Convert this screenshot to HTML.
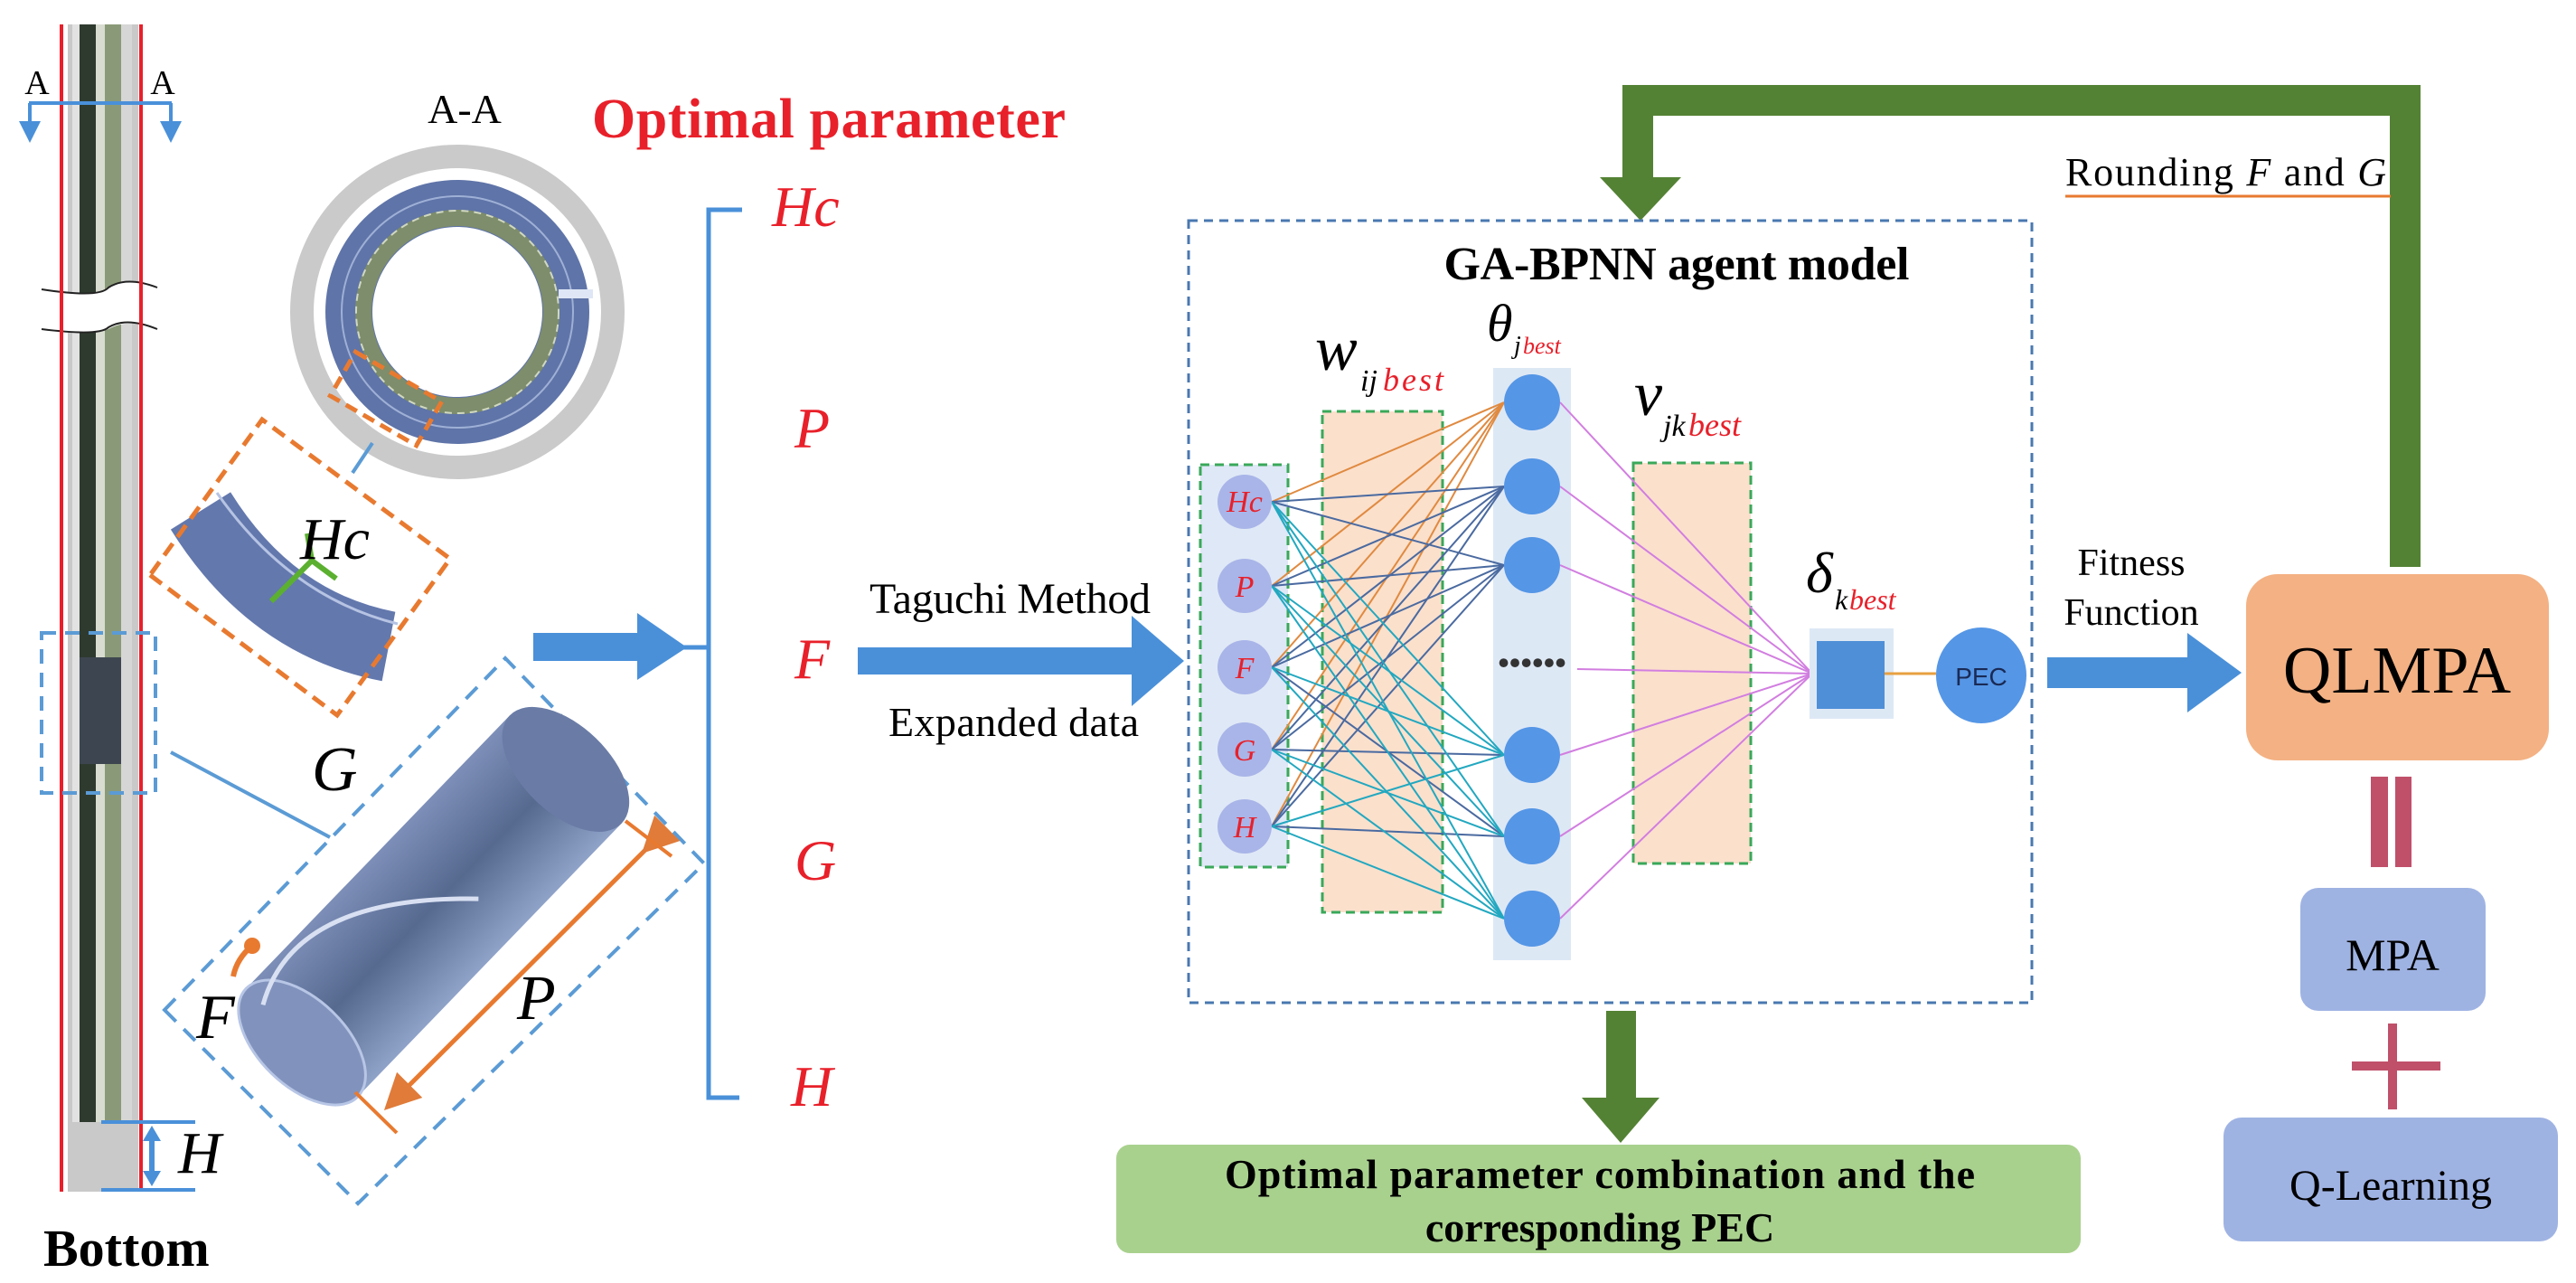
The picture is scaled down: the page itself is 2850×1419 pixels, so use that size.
<!DOCTYPE html>
<html><head><meta charset="utf-8"><style>
html,body{margin:0;padding:0;background:#fff;}
svg{display:block;}
text{font-family:"Liberation Serif",serif;}
</style></head><body>
<svg width="2850" height="1419" viewBox="0 0 2850 1419" xmlns="http://www.w3.org/2000/svg">
<defs>
<linearGradient id="cyl" x1="0" y1="0" x2="0" y2="1">
<stop offset="0" stop-color="#7d8fb8"/><stop offset="0.5" stop-color="#56698f"/><stop offset="1" stop-color="#8fa2c8"/>
</linearGradient>
<marker id="ah" markerWidth="8" markerHeight="8" refX="6" refY="4" orient="auto"><path d="M0,0 L8,4 L0,8 z" fill="#e07b39"/></marker>
<marker id="bh" markerWidth="6" markerHeight="6" refX="4" refY="3" orient="auto"><path d="M0,0 L6,3 L0,6 z" fill="#4a90d9"/></marker>
</defs>

<!-- pipe -->
<rect x="75" y="27" width="78" height="1291" fill="#c9c9c9"/>
<rect x="80" y="27" width="8" height="1214" fill="#e2e2e2"/>
<rect x="88" y="27" width="18" height="1214" fill="#2f3a2f"/>
<rect x="106" y="27" width="10" height="1214" fill="#d9dcd0"/>
<rect x="116" y="27" width="18" height="1214" fill="#8a9a78"/>
<rect x="134" y="27" width="12" height="1214" fill="#d6d6d6"/>
<rect x="88" y="727" width="46" height="118" fill="#3d4650"/>
<path d="M40 320 Q110 330 120 318 Q140 305 180 318 L180 362 Q140 352 120 364 Q100 372 40 362 z" fill="#fff"/>
<path d="M46 320 Q110 330 120 318 Q140 305 174 318" fill="none" stroke="#222" stroke-width="2"/>
<path d="M46 364 Q110 372 120 362 Q140 350 174 364" fill="none" stroke="#222" stroke-width="2"/>
<line x1="68" y1="27" x2="68" y2="1318" stroke="#e8202a" stroke-width="4"/>
<line x1="156" y1="27" x2="156" y2="1318" stroke="#e8202a" stroke-width="4"/>
<!-- A arrows -->
<line x1="32" y1="114" x2="190" y2="114" stroke="#4a90d9" stroke-width="4"/>
<line x1="33" y1="114" x2="33" y2="150" stroke="#4a90d9" stroke-width="4" marker-end="url(#bh)"/>
<line x1="189" y1="114" x2="189" y2="150" stroke="#4a90d9" stroke-width="4" marker-end="url(#bh)"/>
<text x="41" y="104" font-size="38" text-anchor="middle">A</text>
<text x="180" y="104" font-size="38" text-anchor="middle">A</text>
<!-- H dims -->
<line x1="112" y1="1241" x2="216" y2="1241" stroke="#4a90d9" stroke-width="4"/>
<line x1="112" y1="1316" x2="216" y2="1316" stroke="#4a90d9" stroke-width="4"/>
<line x1="168" y1="1250" x2="168" y2="1307" stroke="#4a90d9" stroke-width="6"/>
<path d="M158 1262 L168 1245 L178 1262 z M158 1295 L168 1312 L178 1295 z" fill="#4a90d9"/>
<text x="197" y="1297" font-size="66" font-style="italic">H</text>
<text x="48" y="1400" font-size="58" font-weight="bold">Bottom</text>
<!-- small dashed blue rect -->
<rect x="46" y="700" width="126" height="177" fill="none" stroke="#5b9bd5" stroke-width="4" stroke-dasharray="16,10"/>
<line x1="189" y1="832" x2="365" y2="926" stroke="#5b9bd5" stroke-width="4"/>

<!-- A-A ring -->
<text x="514" y="136" font-size="46" text-anchor="middle">A-A</text>
<circle cx="506" cy="345" r="172" fill="none" stroke="#cacaca" stroke-width="26"/>
<circle cx="506" cy="345" r="146" fill="#5f74a8"/>
<circle cx="506" cy="345" r="128" fill="none" stroke="#9fb0d6" stroke-width="2"/>
<circle cx="506" cy="345" r="104" fill="none" stroke="#7e8d6b" stroke-width="18"/>
<circle cx="506" cy="345" r="112" fill="none" stroke="#d0d8c0" stroke-width="2" stroke-dasharray="8,6"/>
<circle cx="506" cy="345" r="94" fill="#fff"/>
<rect x="618" y="320" width="38" height="10" fill="#dfe6f5"/>
<g transform="translate(427,441) rotate(30)"><rect x="-55" y="-28" width="110" height="56" fill="none" stroke="#e87a30" stroke-width="5" stroke-dasharray="14,8"/></g>
<line x1="412" y1="490" x2="390" y2="523" stroke="#5b9bd5" stroke-width="4"/>
<!-- Hc piece -->
<path d="M222 565 Q300 690 430 715" fill="none" stroke="#6378ad" stroke-width="78"/>
<path d="M240 545 Q320 660 440 690" fill="none" stroke="#b6c3e3" stroke-width="3"/>
<path d="M300 665 L345 620 L372 640 M345 620 L340 590" fill="none" stroke="#5bb030" stroke-width="6"/>
<polygon points="166,636 373,791 498,618 290,464" fill="none" stroke="#e87a30" stroke-width="5" stroke-dasharray="16,9"/>
<text x="332" y="618" font-size="66" font-style="italic">Hc</text>

<!-- cylinder -->
<polygon points="182,1117 396,1331 779,955 559,728" fill="none" stroke="#5b9bd5" stroke-width="4" stroke-dasharray="18,12"/>
<g transform="translate(480,1002) rotate(-46)">
<rect x="-210" y="-86" width="420" height="172" fill="url(#cyl)"/>
<ellipse cx="210" cy="0" rx="48" ry="86" fill="#6a7ca6"/>
<ellipse cx="-210" cy="0" rx="48" ry="86" fill="#8193bd" stroke="#b8c6e6" stroke-width="3"/>
<path d="M-210 -60 Q-100 -120 40 30" fill="none" stroke="#d8e0f2" stroke-width="5"/>
</g>
<circle cx="279" cy="1046" r="9" fill="#e87a30"/>
<path d="M279 1046 Q262 1060 258 1080" fill="none" stroke="#e87a30" stroke-width="6"/>
<line x1="717" y1="937" x2="432" y2="1221" stroke="#e87a30" stroke-width="5" marker-end="url(#ah)" marker-start="url(#ah)"/>
<line x1="692" y1="908" x2="743" y2="947" stroke="#e87a30" stroke-width="4"/>
<line x1="393" y1="1208" x2="439" y2="1253" stroke="#e87a30" stroke-width="4"/>
<text x="345" y="874" font-size="70" font-style="italic">G</text>
<text x="217" y="1148" font-size="70" font-style="italic">F</text>
<text x="572" y="1127" font-size="70" font-style="italic">P</text>

<!-- Optimal parameter -->
<text x="655" y="152" font-size="62" font-weight="bold" fill="#e8202a" textLength="524">Optimal parameter</text>
<!-- arrow to bracket -->
<rect x="590" y="700" width="118" height="31" fill="#4a90d9"/>
<polygon points="705,678 760,716 705,752" fill="#4a90d9"/>
<line x1="755" y1="716" x2="784" y2="716" stroke="#4a90d9" stroke-width="5"/>
<path d="M821 232 L784 232 L784 1214 L818 1214" fill="none" stroke="#4a90d9" stroke-width="5"/>
<g fill="#e8202a" font-size="64" font-style="italic">
<text x="854" y="250">Hc</text><text x="879" y="495">P</text><text x="879" y="750">F</text><text x="879" y="973">G</text><text x="875" y="1223">H</text>
</g>
<!-- Taguchi -->
<text x="962" y="678" font-size="48" textLength="311">Taguchi Method</text>
<text x="983" y="814" font-size="46" textLength="277">Expanded data</text>
<rect x="949" y="716" width="306" height="30" fill="#4a90d9"/>
<polygon points="1252,681 1310,731 1252,781" fill="#4a90d9"/>

<!-- green feedback -->
<path d="M2661 627 L2661 111 L1812 111 L1812 198" fill="none" stroke="#548235" stroke-width="34"/>
<polygon points="1770,196 1860,196 1815,244" fill="#548235"/>
<text x="2285" y="205" font-size="44" textLength="355">Rounding <tspan font-style="italic">F</tspan> and <tspan font-style="italic">G</tspan></text>
<line x1="2285" y1="217" x2="2645" y2="217" stroke="#e87a30" stroke-width="3"/>

<!-- GA-BPNN box -->
<rect x="1315" y="244" width="933" height="865" fill="none" stroke="#4a78b0" stroke-width="3" stroke-dasharray="10,7"/>
<text x="1855" y="309" font-size="52" font-weight="bold" text-anchor="middle" textLength="515">GA-BPNN agent model</text>
<!-- input box -->
<rect x="1328" y="514" width="97" height="445" fill="#dfe8f6" stroke="#3aa85a" stroke-width="3" stroke-dasharray="10,6"/>
<rect x="1463" y="455" width="133" height="554" fill="#fbe0cc" stroke="#3aa85a" stroke-width="3" stroke-dasharray="10,6"/>
<rect x="1652" y="407" width="86" height="655" fill="#dde8f5"/>
<rect x="1807" y="512" width="130" height="443" fill="#fbe0cc" stroke="#3aa85a" stroke-width="3" stroke-dasharray="10,6"/>
<!-- connections -->
<g stroke-width="2" fill="none">
<g stroke="#e08a40">
<line x1="1407" y1="555" x2="1664" y2="445"/><line x1="1407" y1="648" x2="1664" y2="445"/><line x1="1407" y1="738" x2="1664" y2="445"/><line x1="1407" y1="829" x2="1664" y2="445"/><line x1="1407" y1="914" x2="1664" y2="445"/>
</g>
<g stroke="#4a6aa0">
<line x1="1407" y1="555" x2="1664" y2="538"/><line x1="1407" y1="555" x2="1664" y2="625"/><line x1="1407" y1="648" x2="1664" y2="538"/><line x1="1407" y1="648" x2="1664" y2="625"/><line x1="1407" y1="738" x2="1664" y2="538"/><line x1="1407" y1="738" x2="1664" y2="625"/><line x1="1407" y1="829" x2="1664" y2="538"/><line x1="1407" y1="829" x2="1664" y2="625"/><line x1="1407" y1="914" x2="1664" y2="538"/><line x1="1407" y1="914" x2="1664" y2="625"/>
<line x1="1407" y1="829" x2="1664" y2="835"/><line x1="1407" y1="914" x2="1664" y2="925"/><line x1="1407" y1="738" x2="1664" y2="925"/>
</g>
<g stroke="#22a8c0">
<line x1="1407" y1="555" x2="1664" y2="835"/><line x1="1407" y1="555" x2="1664" y2="925"/><line x1="1407" y1="555" x2="1664" y2="1016"/><line x1="1407" y1="648" x2="1664" y2="835"/><line x1="1407" y1="648" x2="1664" y2="925"/><line x1="1407" y1="648" x2="1664" y2="1016"/><line x1="1407" y1="738" x2="1664" y2="835"/><line x1="1407" y1="738" x2="1664" y2="1016"/><line x1="1407" y1="829" x2="1664" y2="925"/><line x1="1407" y1="829" x2="1664" y2="1016"/><line x1="1407" y1="914" x2="1664" y2="835"/><line x1="1407" y1="914" x2="1664" y2="1016"/>
</g>
<g stroke="#d27ee0">
<line x1="1726" y1="445" x2="2005" y2="745"/><line x1="1726" y1="538" x2="2005" y2="745"/><line x1="1726" y1="625" x2="2005" y2="745"/><line x1="1745" y1="740" x2="2005" y2="745"/><line x1="1726" y1="835" x2="2005" y2="745"/><line x1="1726" y1="925" x2="2005" y2="745"/><line x1="1726" y1="1016" x2="2005" y2="745"/>
</g>
</g>
<!-- input nodes -->
<g fill="#a9b5e8">
<circle cx="1377" cy="555" r="30"/><circle cx="1377" cy="648" r="30"/><circle cx="1377" cy="738" r="30"/><circle cx="1377" cy="829" r="30"/><circle cx="1377" cy="914" r="30"/>
</g>
<g fill="#e8202a" font-size="34" font-style="italic" text-anchor="middle">
<text x="1377" y="566">Hc</text><text x="1377" y="660">P</text><text x="1377" y="750">F</text><text x="1377" y="841">G</text><text x="1377" y="926">H</text>
</g>
<!-- hidden nodes -->
<g fill="#5596e6">
<circle cx="1695" cy="445" r="31"/><circle cx="1695" cy="538" r="31"/><circle cx="1695" cy="625" r="31"/><circle cx="1695" cy="835" r="31"/><circle cx="1695" cy="925" r="31"/><circle cx="1695" cy="1016" r="31"/>
</g>
<text x="1695" y="745" font-size="36" font-weight="bold" text-anchor="middle" fill="#333">••••••</text>
<!-- labels -->
<text x="1455" y="409" font-size="70" font-style="italic">w</text>
<text x="1505" y="432" font-size="34" font-style="italic">ij</text>
<text x="1530" y="432" font-size="36" font-style="italic" fill="#e8202a" letter-spacing="3">best</text>
<text x="1645" y="377" font-size="58" font-style="italic">θ</text>
<text x="1675" y="391" font-size="28" font-style="italic">j</text>
<text x="1685" y="391" font-size="26" font-style="italic" fill="#e8202a">best</text>
<text x="1808" y="459" font-size="70" font-style="italic">v</text>
<text x="1840" y="482" font-size="34" font-style="italic">jk</text>
<text x="1868" y="482" font-size="36" font-style="italic" fill="#e8202a">best</text>
<text x="1998" y="655" font-size="64" font-style="italic">δ</text>
<text x="2030" y="674" font-size="32" font-style="italic">k</text>
<text x="2046" y="674" font-size="32" font-style="italic" fill="#e8202a">best</text>
<rect x="2002" y="695" width="93" height="100" fill="#dde8f5"/>
<rect x="2010" y="709" width="75" height="75" fill="#4f8fd8"/>
<line x1="2085" y1="745" x2="2142" y2="745" stroke="#e8a040" stroke-width="3"/>
<ellipse cx="2192" cy="747" rx="50" ry="53" fill="#5596e6"/>
<text x="2192" y="758" font-size="28" text-anchor="middle" fill="#1a2a55" style="font-family:'Liberation Sans',sans-serif">PEC</text>

<!-- fitness -->
<text x="2358" y="636" font-size="42" text-anchor="middle">Fitness</text>
<text x="2358" y="691" font-size="42" text-anchor="middle">Function</text>
<rect x="2265" y="727" width="160" height="34" fill="#4a90d9"/>
<polygon points="2420,700 2480,744 2420,788" fill="#4a90d9"/>
<!-- QLMPA -->
<rect x="2485" y="635" width="335" height="206" rx="35" fill="#f4b183"/>
<text x="2652" y="766" font-size="74" text-anchor="middle">QLMPA</text>
<rect x="2623" y="859" width="19" height="100" fill="#c0506a"/>
<rect x="2650" y="859" width="18" height="100" fill="#c0506a"/>
<rect x="2545" y="982" width="205" height="136" rx="20" fill="#9fb3e3"/>
<text x="2647" y="1073" font-size="50" text-anchor="middle">MPA</text>
<rect x="2602" y="1174" width="98" height="10" fill="#c0506a"/>
<rect x="2642" y="1132" width="10" height="95" fill="#c0506a"/>
<rect x="2460" y="1236" width="370" height="137" rx="20" fill="#9fb3e3"/>
<text x="2645" y="1327" font-size="48" text-anchor="middle">Q-Learning</text>

<!-- result -->
<rect x="1777" y="1118" width="33" height="100" fill="#548235"/>
<polygon points="1750,1214 1836,1214 1793,1264" fill="#548235"/>
<rect x="1235" y="1266" width="1067" height="120" rx="15" fill="#a9d18e"/>
<text x="1770" y="1314" font-size="46" font-weight="bold" text-anchor="middle" textLength="830">Optimal parameter combination and the</text>
<text x="1770" y="1373" font-size="46" font-weight="bold" text-anchor="middle">corresponding PEC</text>
</svg>
</body></html>
